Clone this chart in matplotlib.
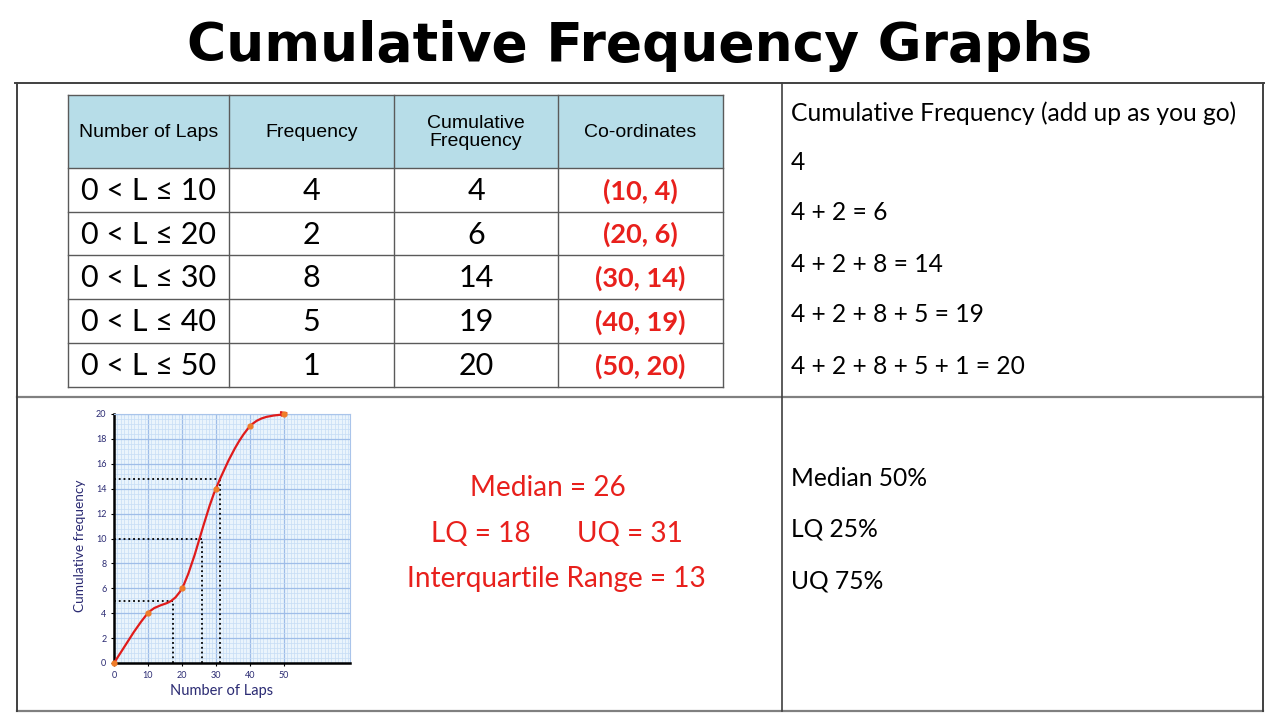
import matplotlib.pyplot as plt
import numpy as np
from matplotlib.path import Path
from matplotlib.patches import PathPatch, Rectangle
from matplotlib.ticker import MultipleLocator

plt.rcParams['font.family'] = ['Lato', 'DejaVu Sans']

# Data
intervals = ["0 < L ≤ 10", "0 < L ≤ 20", "0 < L ≤ 30", "0 < L ≤ 40", "0 < L ≤ 50"]
laps_upper = [10, 20, 30, 40, 50]
frequency = [4, 2, 8, 5, 1]
cumulative = [4, 6, 14, 19, 20]
headers = ["Number of Laps", "Frequency", "Cumulative\nFrequency", "Co-ordinates"]
sums = ["4", "4 + 2 = 6", "4 + 2 + 8 = 14", "4 + 2 + 8 + 5 = 19", "4 + 2 + 8 + 5 + 1 = 20"]

# quartile reading lines on the graph (cf value, laps value)
quart_cf = [5, 10, 14.8]
quart_laps = [17.3, 26, 31.3]

results = ["Median = 26", "LQ = 18", "UQ = 31", "Interquartile Range = 13"]
percent_notes = ["Median 50%", "LQ 25%", "UQ 75%"]

red = '#e8201c'
navy = '#2b2b73'

fig = plt.figure(figsize=(12.8, 7.2), dpi=100)
bg = fig.add_axes([0, 0, 1, 1])
bg.set_xlim(0, 1280)
bg.set_ylim(720, 0)
bg.axis('off')

# title
bg.text(640, 46, "Cumulative Frequency Graphs", ha='center', va='center',
        fontsize=38.5, fontweight='bold', family='DejaVu Sans')

# outer frame
frame = '#404040'
bg.plot([15, 1264], [83, 83], color=frame, lw=1.4)
bg.plot([17, 1263], [397, 397], color='#808080', lw=1.6)
bg.plot([17, 1263], [711, 711], color='#808080', lw=1.6)
bg.plot([17, 17], [83, 711], color=frame, lw=1.4)
bg.plot([782, 782], [83, 711], color=frame, lw=1.2)
bg.plot([1263, 1263], [83, 711], color=frame, lw=1.4)

# table
col_x = [68, 229, 394, 558, 723]
row_y = [95, 168, 212, 255, 299, 343, 387]
bg.add_patch(Rectangle((col_x[0], row_y[0]), col_x[-1] - col_x[0], row_y[1] - row_y[0],
                       facecolor='#b7dde8', edgecolor='none', zorder=1))
for y in row_y:
    bg.plot([col_x[0], col_x[-1]], [y, y], color='#5a5a5a', lw=1.0, zorder=2)
for x in col_x:
    bg.plot([x, x], [row_y[0], row_y[-1]], color='#5a5a5a', lw=1.0, zorder=2)

for j, h in enumerate(headers):
    cx = (col_x[j] + col_x[j + 1]) / 2
    bg.text(cx, (row_y[0] + row_y[1]) / 2 + 1, h, ha='center', va='center',
            fontsize=14, linespacing=1.0, family='Liberation Sans')

for i in range(len(laps_upper)):
    cy = (row_y[i + 1] + row_y[i + 2]) / 2 + 1
    cells = [intervals[i], str(frequency[i]), str(cumulative[i])]
    for j, t in enumerate(cells):
        cx = (col_x[j] + col_x[j + 1]) / 2
        bg.text(cx, cy, t, ha='center', va='center', fontsize=22)
    bg.text((col_x[3] + col_x[4]) / 2, cy, f"({laps_upper[i]}, {cumulative[i]})",
            ha='center', va='center', fontsize=19.5, fontweight='bold', color=red)

# right side notes
bg.text(791, 113, "Cumulative Frequency (add up as you go)", ha='left', va='center', fontsize=17.7)
for i, s in enumerate(sums):
    bg.text(791, 162 + i * 51, s, ha='left', va='center', fontsize=17.7)
for i, s in enumerate(percent_notes):
    bg.text(791, 478 + i * 51.5, s, ha='left', va='center', fontsize=17.7)

# red results
bg.text(548, 488, results[0], ha='center', va='center', fontsize=20.2, color=red)
bg.text(481, 534, results[1], ha='center', va='center', fontsize=20.2, color=red)
bg.text(630, 534, results[2], ha='center', va='center', fontsize=20.2, color=red)
bg.text(556, 579, results[3], ha='center', va='center', fontsize=20.2, color=red)

# cumulative frequency graph
ax = fig.add_axes([114 / 1280, 1 - 663 / 720, 236 / 1280, 249 / 720])
ax.set_xlim(0, 69.5)
ax.set_ylim(0, 20)
ax.set_facecolor('#eaf4fc')
ax.xaxis.set_major_locator(MultipleLocator(10))
ax.xaxis.set_minor_locator(MultipleLocator(1))
ax.yaxis.set_major_locator(MultipleLocator(2))
ax.yaxis.set_minor_locator(MultipleLocator(0.4))
ax.grid(which='minor', color='#c6dcf5', lw=0.5)
ax.grid(which='major', color='#9fbde8', lw=0.9)
ax.set_axisbelow(True)
ax.set_xticks([0, 10, 20, 30, 40, 50])
ax.tick_params(which='both', length=0, labelsize=6.5, labelcolor=navy, pad=3)
ax.tick_params(which='major', length=2.5, color='black')
for side in ['top', 'right']:
    ax.spines[side].set_color('#a9c4ea')
    ax.spines[side].set_linewidth(0.8)
for side in ['left', 'bottom']:
    ax.spines[side].set_color('black')
    ax.spines[side].set_linewidth(1.8)
ax.set_xlabel("Number of Laps", fontsize=10.5, color=navy)
ax.xaxis.set_label_coords((222 - 114) / 236, -0.085)
ax.set_ylabel("Cumulative frequency", fontsize=9.8, color=navy)
ax.yaxis.set_label_coords(-0.12, (663 - 546) / 249)

# smooth curve through the points (Catmull-Rom as Bezier segments)
pts = np.column_stack([[0] + laps_upper, [0] + cumulative]).astype(float)
verts = [pts[0]]
codes = [Path.MOVETO]
n = len(pts)
for i in range(n - 1):
    p0 = pts[max(i - 1, 0)]
    p1 = pts[i]
    p2 = pts[i + 1]
    p3 = pts[min(i + 2, n - 1)]
    verts += [p1 + (p2 - p0) / 6, p2 - (p3 - p1) / 6, p2]
    codes += [Path.CURVE4] * 3
ax.add_patch(PathPatch(Path(verts, codes), facecolor='none', edgecolor='#e01b1b',
                       lw=1.6, zorder=4, clip_on=False))
ax.annotate("", xy=(51.8, 20.15), xytext=(50, 20.05), annotation_clip=False,
            arrowprops=dict(arrowstyle='-|>', color='#e01b1b', lw=1.4, mutation_scale=7))
ax.scatter(pts[:, 0], pts[:, 1], s=12, color='#f07d2a', zorder=5, clip_on=False)

for cf, lp in zip(quart_cf, quart_laps):
    ax.plot([0, lp], [cf, cf], color='black', ls=':', lw=1.3, zorder=3)
    ax.plot([lp, lp], [0, cf], color='black', ls=':', lw=1.3, zorder=3)

fig.savefig("out.png", dpi=100)
